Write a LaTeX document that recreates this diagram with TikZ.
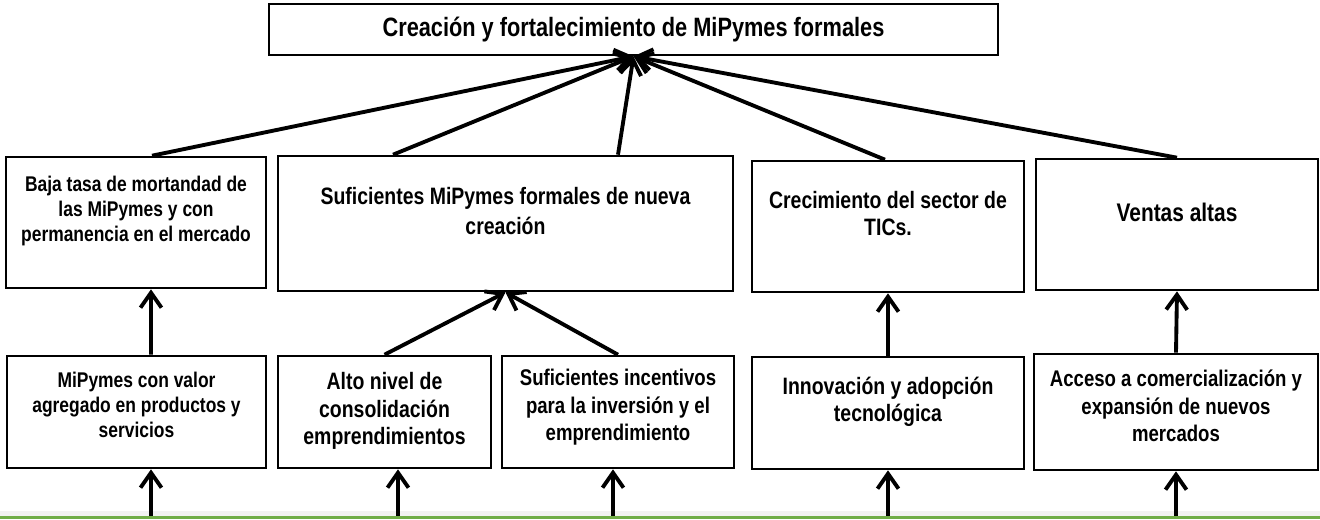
\documentclass[tikz,border=0pt]{standalone}
\usepackage{fontspec}
\setmainfont{Liberation Sans}[FakeStretch=0.82]
\usetikzlibrary{arrows.meta}

\definecolor{groundGreen}{HTML}{70AD47}

\newcommand{\sizetitle}{\fontsize{15.1pt}{18pt}\selectfont}
\newcommand{\sizesmall}{\fontsize{12.1pt}{14.2pt}\selectfont}
\newcommand{\sizemid}{\fontsize{12.9pt}{15.7pt}\selectfont}
\newcommand{\sizebig}{\fontsize{13.5pt}{15.6pt}\selectfont}
\newcommand{\sizenueva}{\fontsize{13.5pt}{17pt}\selectfont}
\newcommand{\sizeventas}{\fontsize{14.5pt}{17pt}\selectfont}

\tikzset{
  box/.style={draw=black, line width=1.5pt, inner sep=0pt},
  txt/.style={align=center, font=\bfseries#1},
  arr/.style={line width=2.2pt, -{Straight Barb[length=0.3cm,width=0.42cm]}},
}

\begin{document}
\begin{tikzpicture}
  \useasboundingbox (0,0) rectangle (26.4,-10.38);

  % Goal node
  \node[box, minimum width=14.58cm, minimum height=1.02cm, txt=\sizetitle] (goal) at (12.67,-0.59) {Creación y fortalecimiento de MiPymes formales};

  % Middle nodes
  \node[box, minimum width=5.2cm, minimum height=2.62cm,
    label={[txt=\sizesmall, yshift=0.23cm]center:{Baja tasa de mortandad de\\las MiPymes y con\\permanencia en el mercado}}] (mort) at (2.72,-4.45) {};
  \node[box, minimum width=9.1cm, minimum height=2.7cm,
    label={[txt=\sizenueva, yshift=0.25cm]center:{Suficientes MiPymes formales de nueva\\creación}}] (nueva) at (10.11,-4.47) {};
  \node[box, minimum width=5.44cm, minimum height=2.62cm,
    label={[txt=\sizebig, yshift=0.26cm]center:{Crecimiento del sector de\\TICs.}}] (tics) at (17.76,-4.53) {};
  \node[box, minimum width=5.64cm, minimum height=2.62cm,
    label={[txt=\sizeventas, yshift=0.25cm]center:{Ventas altas}}] (ventas) at (23.54,-4.49) {};

  % Lower nodes
  \node[box, minimum width=5.18cm, minimum height=2.24cm,
    label={[txt=\sizesmall, yshift=0.14cm]center:{MiPymes con valor\\agregado en productos y\\servicios}}] (valor) at (2.73,-8.24) {};
  \node[box, minimum width=4.26cm, minimum height=2.24cm,
    label={[txt=\sizebig, yshift=0.02cm]center:{Alto nivel de\\consolidación\\emprendimientos}}] (consol) at (7.69,-8.24) {};
  \node[box, minimum width=4.64cm, minimum height=2.24cm,
    label={[txt=\sizemid, yshift=0.09cm]center:{Suficientes incentivos\\para la inversión y el\\emprendimiento}}] (incent) at (12.36,-8.24) {};
  \node[box, minimum width=5.44cm, minimum height=2.24cm,
    label={[txt=\sizebig, yshift=0.22cm]center:{Innovación y adopción\\tecnológica}}] (innov) at (17.76,-8.26) {};
  \node[box, minimum width=5.68cm, minimum height=2.32cm,
    label={[txt=\sizemid, yshift=0.12cm]center:{Acceso a comercialización y\\expansión de nuevos\\mercados}}] (acceso) at (23.52,-8.24) {};

  % Ground line
  \fill[gray!10] (0,-10.21) rectangle (26.4,-10.31);
  \fill[groundGreen] (0,-10.31) rectangle (26.4,-10.38);

  % Connect middle nodes to goal node.
  \draw[arr] ([xshift=0.32cm]mort.north) -- (goal.south);
  \draw[arr] ([xshift=-2.25cm]nueva.north) -- (goal.south);
  \draw[arr] ([xshift=2.25cm]nueva.north) -- (goal.south);
  \draw[arr] ([xshift=-0.06cm]tics.north) -- (goal.south);
  \draw[arr] (ventas.north) -- (goal.south);

  % Connect lower nodes to middle nodes.
  \draw[arr] ([xshift=0.29cm]valor.north) -- ([xshift=0.3cm]mort.south);
  \draw[arr] (consol.north) -- (nueva.south);
  \draw[arr] (incent.north) -- (nueva.south);
  \draw[arr] (innov.north) -- (tics.south);
  \draw[arr] (acceso.north) -- (ventas.south);

  % Inputs from below
  \coordinate (src1) at (3.02,-10.31);
  \coordinate (src2) at (7.96,-10.31);
  \coordinate (src3) at (12.26,-10.31);
  \coordinate (src4) at (17.76,-10.31);
  \coordinate (src5) at (23.52,-10.31);
  \draw[arr] (src1) -- (src1 |- valor.south);
  \draw[arr] (src2) -- (src2 |- consol.south);
  \draw[arr] (src3) -- (src3 |- incent.south);
  \draw[arr] (src4) -- (src4 |- innov.south);
  \draw[arr] (src5) -- (src5 |- acceso.south);

\end{tikzpicture}
\end{document}
